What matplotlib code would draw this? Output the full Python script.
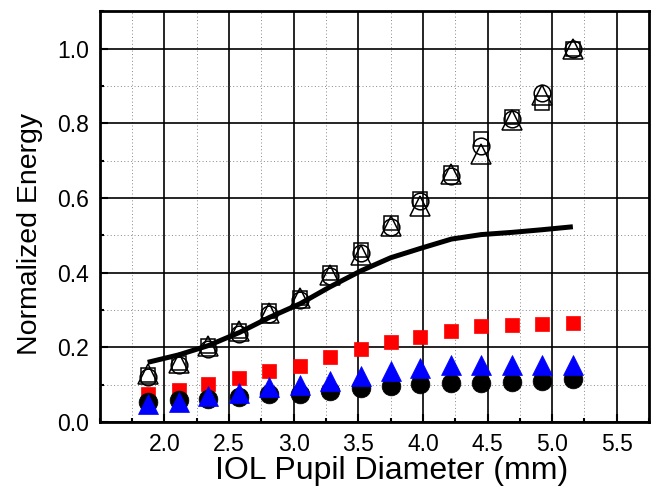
import matplotlib

matplotlib.use("Agg")

import matplotlib.pyplot as plt
from matplotlib.ticker import MultipleLocator

plt.rcParams["font.family"] = ["Liberation Sans", "DejaVu Sans"]

# pupil diameters (mm)
diameter = [1.87, 2.11, 2.34, 2.58, 2.81, 3.05, 3.28, 3.52, 3.75, 3.98, 4.22, 4.45, 4.69, 4.92, 5.16]

# open markers
open_square = [0.127, 0.158, 0.203, 0.245, 0.297, 0.333, 0.398, 0.462, 0.533, 0.598, 0.668, 0.757, 0.818, 0.853, 1.0]
open_circle = [0.122, 0.152, 0.197, 0.237, 0.290, 0.327, 0.392, 0.452, 0.522, 0.592, 0.658, 0.738, 0.812, 0.881, 1.0]
open_triangle = [0.128, 0.158, 0.205, 0.243, 0.293, 0.331, 0.395, 0.448, 0.524, 0.578, 0.665, 0.718, 0.810, 0.877, 1.0]

# filled markers
red_square = [0.076, 0.087, 0.103, 0.118, 0.138, 0.151, 0.173, 0.196, 0.214, 0.229, 0.244, 0.256, 0.261, 0.262, 0.265]
black_circle = [0.053, 0.060, 0.062, 0.068, 0.074, 0.076, 0.082, 0.091, 0.098, 0.103, 0.104, 0.104, 0.107, 0.110, 0.116]
blue_triangle = [0.049, 0.055, 0.070, 0.078, 0.094, 0.099, 0.110, 0.124, 0.138, 0.146, 0.153, 0.153, 0.152, 0.152, 0.152]

# solid curve
curve = [0.160, 0.180, 0.205, 0.240, 0.280, 0.317, 0.362, 0.405, 0.440, 0.465, 0.490, 0.502, 0.508, 0.515, 0.523]

fig = plt.figure(figsize=(6.57, 4.88), dpi=100)
ax = fig.add_axes([0.152, 0.135, 0.836, 0.842])

ax.plot(diameter, red_square, ls="none", marker="s", ms=10.5, color="#ff0000", mec="#ff0000", mew=0.5, zorder=3)
ax.plot(diameter, black_circle, ls="none", marker="o", ms=13.5, color="black", mew=0.5, zorder=3)
ax.plot(diameter, blue_triangle, ls="none", marker="^", ms=15, color="#0000ff", mec="#0000ff", mew=0.5, zorder=3)

ax.plot(diameter, open_square, ls="none", marker="s", ms=10, mfc="none", mec="black", mew=1.1, zorder=3)
ax.plot(diameter, open_circle, ls="none", marker="o", ms=12, mfc="none", mec="black", mew=1.1, zorder=3)
ax.plot(diameter, open_triangle, ls="none", marker="^", ms=14, mfc="none", mec="black", mew=1.1, zorder=3)

ax.plot(diameter, curve, color="black", lw=3.6, solid_capstyle="butt", zorder=4)

ax.set_xlim(1.5, 5.75)
ax.set_ylim(0, 1.1)
ax.xaxis.set_major_locator(MultipleLocator(0.5))
ax.xaxis.set_minor_locator(MultipleLocator(0.25))
ax.yaxis.set_major_locator(MultipleLocator(0.2))
ax.yaxis.set_minor_locator(MultipleLocator(0.1))
ax.set_xticks([2.0, 2.5, 3.0, 3.5, 4.0, 4.5, 5.0, 5.5])

ax.grid(True, which="major", color="black", lw=1.2, ls="-", zorder=0)
ax.grid(True, which="minor", color="#888888", lw=0.7, ls=(0, (1, 2.5)), zorder=0)
ax.set_axisbelow(True)

ax.tick_params(which="major", direction="in", length=6, width=1.5, labelsize=16.5, pad=8)
ax.tick_params(which="minor", direction="in", length=3, width=1.5)
for s in ax.spines.values():
    s.set_linewidth(2)

ax.set_xlabel("IOL Pupil Diameter (mm)", fontsize=23)
ax.xaxis.set_label_coords(0.531, -0.082)
ax.set_ylabel("Normalized Energy", fontsize=20.5)
ax.yaxis.set_label_coords(-0.104, 0.457)

fig.savefig("out.png", dpi=100)
